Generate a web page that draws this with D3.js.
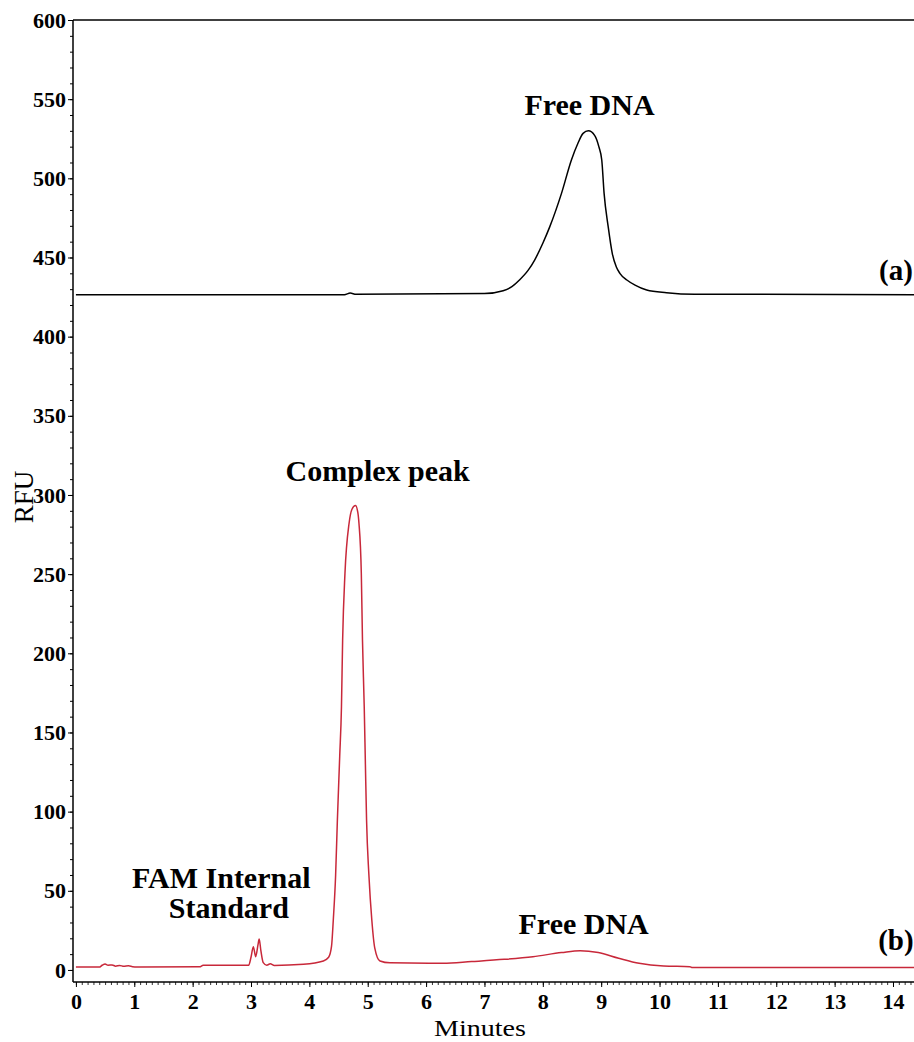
<!DOCTYPE html>
<html>
<head>
<meta charset="utf-8">
<script src="https://cdn.jsdelivr.net/npm/d3@7"></script>
<style>
  html, body { margin: 0; padding: 0; background: #fff; }
  svg { display: block; }
  text { font-family: "Liberation Serif", "Times New Roman", serif; fill: #000; }
</style>
</head>
<body>
<svg id="chart" width="914" height="1042"></svg>
<script>
// ---- Data ----
// Trace (a): free DNA only, black
const traceA_minutes = [0, 4.6, 4.7, 4.8, 7.0, 7.32, 7.47, 7.6, 7.75, 7.86, 8.0, 8.12, 8.32, 8.49, 8.6, 8.69, 8.78, 8.89, 8.96, 9.01, 9.05, 9.12, 9.19, 9.26, 9.32, 9.44, 9.58, 9.78, 10.12, 10.6, 14.36];
const traceA_rfu     = [426.5, 426.5, 427.5, 426.8, 427.2, 429, 431.6, 435.8, 442, 448.4, 459, 469.5, 490.5, 511.6, 522, 528.4, 530, 527, 520, 511.6, 490.5, 469.5, 452.6, 444, 440, 435.8, 432.6, 429.5, 427.8, 426.8, 426.5];

// Trace (b): with protein, red
const traceB_minutes = [0, 0.4, 0.45, 0.5, 0.55, 0.62, 0.68, 0.75, 0.82, 0.9, 0.97, 1.05, 2.12, 2.18, 2.96, 3.0, 3.04, 3.08, 3.12, 3.14, 3.17, 3.21, 3.27, 3.33, 3.4, 3.9, 4.24, 4.33, 4.38, 4.41, 4.45, 4.48, 4.52, 4.55, 4.57, 4.61, 4.68, 4.73, 4.79, 4.83, 4.85, 4.89, 4.91, 4.94, 4.96, 4.98, 5.02, 5.07, 5.12, 5.21, 5.38, 6.29, 6.78, 7.34, 7.83, 8.32, 8.64, 8.95, 9.30, 9.65, 10.07, 10.52, 10.56, 14.36];
const traceB_rfu     = [1.8, 1.8, 3.0, 3.8, 3.0, 3.2, 2.4, 2.9, 2.3, 2.6, 2.1, 1.9, 2.0, 3.0, 3.0, 8.0, 14.7, 8.4, 16, 19.6, 12, 4.6, 3.0, 3.9, 2.9, 3.6, 5.7, 8, 15, 31.6, 60, 94.7, 135, 166.3, 208.4, 250.5, 282, 291, 293.3, 289, 282, 250.5, 208.4, 166.3, 130, 94.7, 60, 31.6, 14, 5.7, 4.5, 4.2, 5.3, 6.7, 8.4, 11.0, 12.2, 11.0, 7.4, 4.2, 2.5, 2.1, 1.5, 1.5];

// Axis ticks
const yMajorTicks = d3.range(0, 601, 50);
const yMinorTicks = d3.range(0, 601, 10);
const xMajorTicks = d3.range(0, 15, 1);
const xMinorTicks = d3.range(0, 144, 1).map(d => d / 10);

// Annotations
const annotations = [
  { text: "Free DNA", minute: 8.8, rfu: 540, anchor: "middle" },
  { text: "Complex peak", minute: 5.17, rfu: 309, anchor: "middle" },
  { text: "FAM Internal", minute: 2.49, rfu: 52, anchor: "middle" },
  { text: "Standard", minute: 2.62, rfu: 33, anchor: "middle" },
  { text: "Free DNA", minute: 8.70, rfu: 22.7, anchor: "middle" }
];
const panelLabels = [
  { text: "(a)", minute: 14.05, rfu: 436 },
  { text: "(b)", minute: 14.05, rfu: 12.7 }
];

// ---- Layout ----
const svg = d3.select("#chart");
const plotLeft = 73, plotRight = 914, plotTop = 20, plotBottom = 982;

const x = d3.scaleLinear().domain([-0.05, 14.36]).range([plotLeft, plotRight]);
const y = d3.scaleLinear().domain([-7.6, 600]).range([plotBottom, plotTop]);

svg.append("rect").attr("width", 914).attr("height", 1042).attr("fill", "#fff");

svg.append("clipPath").attr("id", "plotclip")
  .append("rect").attr("x", plotLeft).attr("y", plotTop)
  .attr("width", plotRight - plotLeft).attr("height", plotBottom - plotTop);

// Frame line at top
svg.append("line").attr("x1", plotLeft).attr("x2", plotRight).attr("y1", plotTop).attr("y2", plotTop)
  .attr("stroke", "#000").attr("stroke-width", 1.5);

// Y axis minor
const yMinor = svg.append("g").attr("transform", `translate(${plotLeft},0)`)
  .call(d3.axisLeft(y).tickValues(yMinorTicks).tickSize(3).tickFormat(""));
yMinor.select(".domain").remove();
yMinor.selectAll("line").attr("stroke", "#000");

// Y axis major
const yMajor = svg.append("g").attr("transform", `translate(${plotLeft},0)`)
  .call(d3.axisLeft(y).tickValues(yMajorTicks).tickSize(5).tickPadding(2));
yMajor.select(".domain").remove();
yMajor.selectAll("line").attr("stroke", "#000");
yMajor.selectAll("text")
  .style("font-family", '"Liberation Serif", "Times New Roman", serif')
  .style("font-weight", "bold").style("font-size", "22px").attr("fill", "#000");

// X axis minor
const xMinor = svg.append("g").attr("transform", `translate(0,${plotBottom})`)
  .call(d3.axisBottom(x).tickValues(xMinorTicks).tickSize(3).tickFormat(""));
xMinor.select(".domain").remove();
xMinor.selectAll("line").attr("stroke", "#000").attr("stroke-width", 0.8);

// X axis major
const xMajor = svg.append("g").attr("transform", `translate(0,${plotBottom})`)
  .call(d3.axisBottom(x).tickValues(xMajorTicks).tickSize(5).tickPadding(6));
xMajor.select(".domain").remove();
xMajor.selectAll("line").attr("stroke", "#000");
xMajor.selectAll("text")
  .style("font-family", '"Liberation Serif", "Times New Roman", serif')
  .style("font-weight", "bold").style("font-size", "22px").attr("fill", "#000");

// Axis lines
svg.append("line").attr("x1", plotLeft).attr("x2", plotLeft).attr("y1", plotTop).attr("y2", plotBottom)
  .attr("stroke", "#000").attr("stroke-width", 1.5);
svg.append("line").attr("x1", plotLeft).attr("x2", plotRight).attr("y1", plotBottom).attr("y2", plotBottom)
  .attr("stroke", "#000").attr("stroke-width", 1.5);

// Traces
const line = d3.line().x(d => x(d[0])).y(d => y(d[1])).curve(d3.curveMonotoneX);
const plot = svg.append("g").attr("clip-path", "url(#plotclip)");

plot.append("path")
  .datum(d3.zip(traceA_minutes, traceA_rfu))
  .attr("d", line).attr("fill", "none").attr("stroke", "#000").attr("stroke-width", 1.5);

plot.append("path")
  .datum(d3.zip(traceB_minutes, traceB_rfu))
  .attr("d", line).attr("fill", "none").attr("stroke", "#c8283a").attr("stroke-width", 1.5);

// Annotations
svg.selectAll("text.anno").data(annotations).enter().append("text")
  .attr("class", "anno")
  .attr("x", d => x(d.minute)).attr("y", d => y(d.rfu))
  .attr("text-anchor", d => d.anchor)
  .style("font-weight", "bold").style("font-size", "30px")
  .text(d => d.text);

svg.selectAll("text.panel").data(panelLabels).enter().append("text")
  .attr("class", "panel")
  .attr("x", d => x(d.minute)).attr("y", d => y(d.rfu))
  .attr("text-anchor", "middle")
  .style("font-weight", "bold").style("font-size", "29px")
  .text(d => d.text);

// Axis titles
svg.append("text")
  .attr("transform", "translate(33,497) rotate(-90)")
  .attr("text-anchor", "middle")
  .style("font-size", "27px")
  .text("RFU");

svg.append("text")
  .attr("x", 480).attr("y", 1036)
  .attr("text-anchor", "middle")
  .style("font-size", "24px")
  .attr("textLength", 92).attr("lengthAdjust", "spacingAndGlyphs")
  .text("Minutes");
</script>
</body>
</html>
